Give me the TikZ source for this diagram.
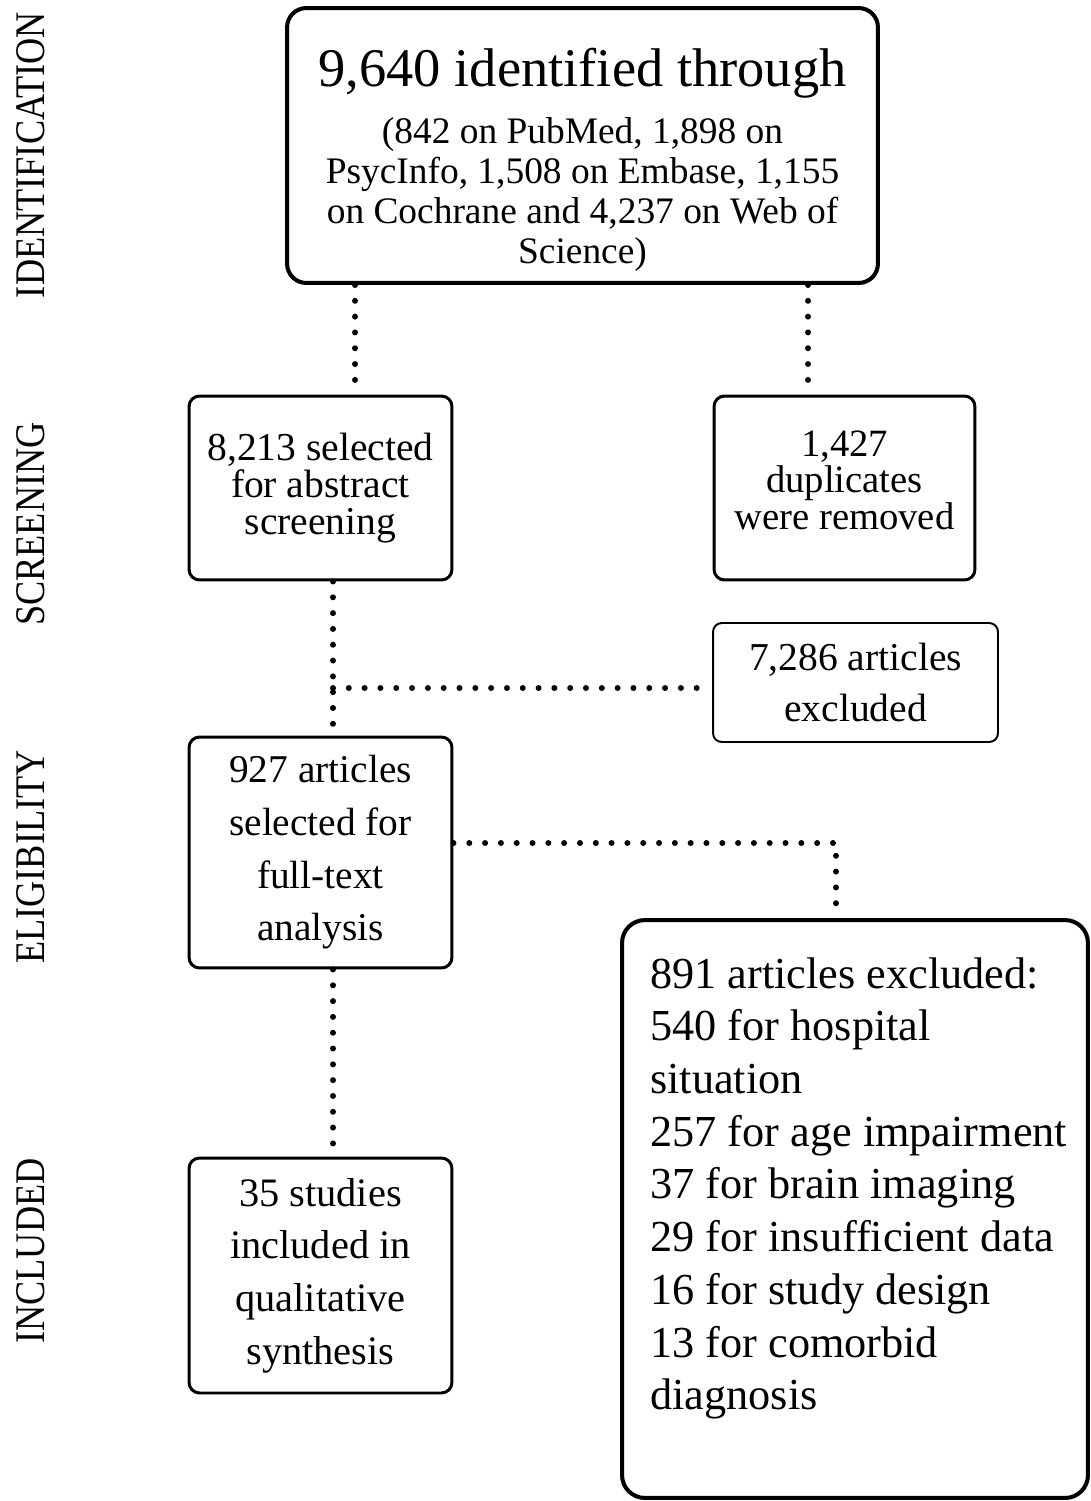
\documentclass[tikz,border=0pt]{standalone}
\usepackage{fontspec}
\setmainfont{Liberation Serif}
\usetikzlibrary{positioning}

\newcommand{\phaselabel}[1]{\scalebox{0.86}[1]{#1}}

\tikzset{
  box/.style={draw, line width=1.7pt, rounded corners=6pt, align=center, inner sep=0pt,
    minimum width=5.26cm},
  thickbox/.style={draw, line width=2.3pt, rounded corners=11pt, inner sep=0pt},
  thinbox/.style={draw, line width=1.1pt, rounded corners=5pt, align=center, inner sep=0pt},
  phase/.style={rotate=90, inner sep=0pt, font=\fontsize{24}{24}\selectfont},
  dotline/.style={line width=3.4pt, dash pattern=on 0pt off 9pt, line cap=round},
}

\begin{document}
\begin{tikzpicture}[x=0.02cm, y=-0.02cm]
	\useasboundingbox (0,0) rectangle (1090,1501);

	% phases
	\node[phase] (p-id) at (31,155) {\phaselabel{IDENTIFICATION}};
	\node[phase] (p-sc) at (31,524) {\phaselabel{SCREENING}};
	\node[phase] (p-el) at (31,857) {\phaselabel{ELIGIBILITY}};
	\node[phase] (p-in) at (31,1251) {\phaselabel{INCLUDED}};

	% boxes
	\node[thickbox, align=center, minimum width=11.82cm, minimum height=5.5cm,
		font=\fontsize{21.3}{22.7}\selectfont] (ident) at (582.5,145.5)
		{\rule{0pt}{38pt}{\fontsize{31}{31}\selectfont 9,640 identified through}\\[10pt]
		(842 on PubMed, 1,898 on\\
		PsycInfo, 1,508 on Embase, 1,155\\
		on Cochrane and 4,237 on Web of\\
		Science)};
	\node[box, minimum height=3.68cm, font=\fontsize{22.5}{21.3}\selectfont] (sel) at (320.5,488)
		{8,213 selected\\for abstract\\screening};
	\node[box, minimum width=5.22cm, minimum height=3.68cm, font=\fontsize{22}{21}\selectfont] (dup) at (844.5,488)
		{1,427\\duplicates\\were removed\\[-12pt]};
	\node[thinbox, minimum width=5.7cm, minimum height=2.38cm, font=\fontsize{22.5}{29.5}\selectfont] (excl1) at (855.5,682.5)
		{7,286 articles\\excluded};
	\node[box, minimum height=4.62cm, font=\fontsize{22.4}{30}\selectfont] (full) at (320.5,852.5)
		{927 articles\\selected for\\full-text\\analysis};
	\node[box, minimum height=4.7cm, font=\fontsize{23}{30}\selectfont] (incl) at (320.5,1275.5)
		{35 studies\\included in\\qualitative\\synthesis};
	\node[thickbox, rounded corners=13pt, minimum width=9.32cm, minimum height=11.56cm] (excl2) at (855,1209) {};
	\node[anchor=north west, inner sep=0pt, align=left, font=\fontsize{25.2}{30}\selectfont] (excl2-txt) at (650,957)
		{891 articles excluded:\\
		540 for hospital\\
		situation\\
		257 for age impairment\\
		37 for brain imaging\\
		29 for insufficient data\\
		16 for study design\\
		13 for comorbid\\
		diagnosis};

	% connectors
	\coordinate (l1) at (355,0);
	\coordinate (r1) at (808,0);
	\coordinate (j1) at (333,688);
	\coordinate (k1) at (836,843);
	\draw[dotline] (ident.south -| l1) -- (sel.north -| l1);
	\draw[dotline] (ident.south -| r1) -- (dup.north -| r1);
	\draw[dotline] (sel.south -| j1) -- (full.north -| j1);
	\draw[dotline, shorten >=4pt] (j1) -- (excl1.west |- j1);
	\draw[dotline, shorten >=8pt] (full.east |- k1) -- (k1) -- (excl2.north -| k1);
	\draw[dotline] (full.south -| j1) -- (incl.north -| j1);
\end{tikzpicture}
\end{document}
